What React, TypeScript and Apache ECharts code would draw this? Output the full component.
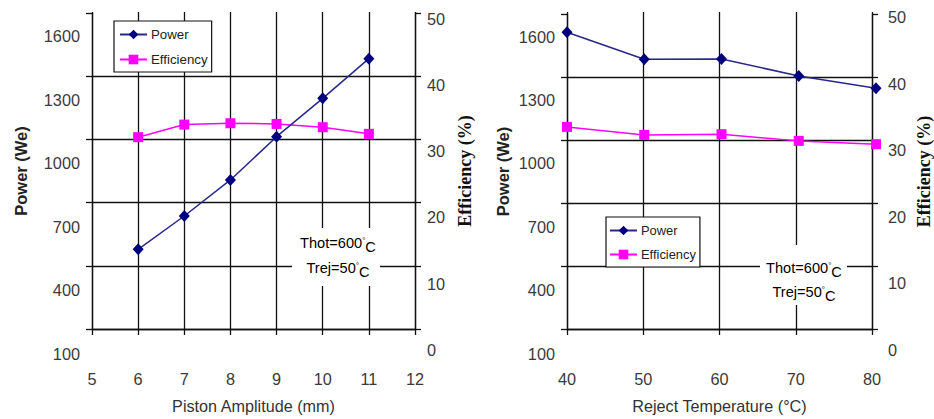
import React, { useEffect, useRef } from "react";
import * as echarts from "echarts";

// ---- data ----
const pistonAmplitude = [6, 7, 8, 9, 10, 11];
const powerVsAmplitude = [594, 751, 921, 1125, 1306, 1493];
const efficiencyVsAmplitude = [32.1, 34.0, 34.2, 34.1, 33.6, 32.6];

const rejectTemperature = [40, 50, 60, 70, 80];
const powerVsReject = [1620, 1492, 1494, 1413, 1355];
const efficiencyVsReject = [33.5, 32.3, 32.4, 31.4, 30.9];

// ---- tick labels ----
const powerTicks = [100, 400, 700, 1000, 1300, 1600];
const efficiencyTicks = [0, 10, 20, 30, 40, 50];
const amplitudeTicks = [5, 6, 7, 8, 9, 10, 11, 12];
const rejectTicks = [40, 50, 60, 70, 80];

const seriesNames = ["Power", "Efficiency"];
const annotationLines = ["Thot=600", "Trej=50"];

const SANS = "'Liberation Sans', Arial, sans-serif";
const SERIF = "'Liberation Serif', 'Times New Roman', serif";
const BLACK = "#111";
const LABEL = "#3a3a3a";
const NAVY = "#000080";
const MAGENTA = "#ff00ff";
const TICK_FONT = 16.3;
const plain = (v: number) => String(v);

type PanelCfg = {
  left: number;
  width: number;
  frameTop: number;
  frameHeight: number;
  powerTop: number;
  powerHeight: number;
  effTop: number;
  effHeight: number;
  xTicks: number[];
  xName: string;
  xNameGap: number;
  xLabelMargin: number;
  leftNameGap: number;
  rightNameGap: number;
  xs: number[];
  power: number[];
  eff: number[];
  legend: { left: number; top: number; padding: number[]; itemGap: number; fontSize: number };
  note: { x: number; y: number; w: number; h: number; cx: number; y1: number; y2: number };
};

const panels: PanelCfg[] = [
  {
    left: 92,
    width: 323,
    frameTop: 13,
    frameHeight: 317,
    powerTop: 36,
    powerHeight: 318,
    effTop: 18.5,
    effHeight: 331.5,
    xTicks: amplitudeTicks,
    xName: "Piston Amplitude (mm)",
    xNameGap: 69,
    xLabelMargin: 42,
    leftNameGap: 63,
    rightNameGap: 41,
    xs: pistonAmplitude,
    power: powerVsAmplitude,
    eff: efficiencyVsAmplitude,
    legend: { left: 114, top: 21, padding: [7, 4, 6, 5], itemGap: 12, fontSize: 13.3 },
    note: { x: 292, y: 228, w: 88, h: 58, cx: 338, y1: 243, y2: 268 },
  },
  {
    left: 567,
    width: 309,
    frameTop: 14,
    frameHeight: 317,
    powerTop: 36.5,
    powerHeight: 317,
    effTop: 17,
    effHeight: 333,
    xTicks: rejectTicks,
    xName: "Reject Temperature (°C)",
    xNameGap: 69,
    xLabelMargin: 42,
    leftNameGap: 56,
    rightNameGap: 43,
    xs: rejectTemperature,
    power: powerVsReject,
    eff: efficiencyVsReject,
    legend: { left: 606, top: 217, padding: [7, 4, 6, 3], itemGap: 11, fontSize: 12.9 },
    note: { x: 760, y: 245, w: 87, h: 60, cx: 804, y1: 268, y2: 292 },
  },
];

function buildOption() {
  const grid: any[] = [];
  const xAxis: any[] = [];
  const yAxis: any[] = [];
  const series: any[] = [];
  const legend: any[] = [];
  const graphic: any[] = [];

  panels.forEach((p, i) => {
    const g0 = i * 3;
    const x0 = i * 4;
    const y0 = i * 4;
    const xMin = p.xTicks[0];
    const xMax = p.xTicks[p.xTicks.length - 1];
    const xInt = p.xTicks[1] - p.xTicks[0];

    grid.push(
      { left: p.left, width: p.width, top: p.frameTop, height: p.frameHeight },
      { left: p.left, width: p.width, top: p.powerTop, height: p.powerHeight },
      { left: p.left, width: p.width, top: p.effTop, height: p.effHeight }
    );

    // frame x axis (visible)
    xAxis.push({
      type: "value",
      gridIndex: g0,
      min: xMin,
      max: xMax,
      interval: xInt,
      name: p.xName,
      nameLocation: "middle",
      nameGap: p.xNameGap,
      nameTextStyle: { fontFamily: SANS, fontSize: 16.2, color: "#333" },
      axisLine: { show: true, onZero: false, lineStyle: { color: BLACK, width: 1.3 } },
      axisTick: { show: true, inside: false, length: 6, lineStyle: { color: BLACK, width: 1.3 } },
      axisLabel: { show: true, margin: p.xLabelMargin, fontFamily: SANS, fontSize: TICK_FONT, color: LABEL, formatter: plain },
      splitLine: { show: false },
    });
    // vertical grid lines drawn as long inside ticks
    xAxis.push({
      type: "value",
      gridIndex: g0,
      position: "bottom",
      min: xMin,
      max: xMax,
      interval: xInt,
      axisLine: { show: false, onZero: false },
      axisTick: { show: true, inside: true, length: p.frameHeight, lineStyle: { color: BLACK, width: 1.3 } },
      axisLabel: { show: false },
      splitLine: { show: false },
    });
    // hidden x axes for the data grids
    for (let k = 1; k <= 2; k++) {
      xAxis.push({ type: "value", gridIndex: g0 + k, min: xMin, max: xMax, show: false });
    }

    // frame y axes
    yAxis.push({
      type: "value",
      gridIndex: g0,
      position: "left",
      min: 0,
      max: 5,
      interval: 1,
      name: "Power (We)",
      nameLocation: "middle",
      nameRotate: 90,
      nameGap: p.leftNameGap,
      nameTextStyle: { fontFamily: SANS, fontWeight: "bold", fontSize: 16.5, color: "#222" },
      axisLine: { show: true, lineStyle: { color: BLACK, width: 1.3 } },
      axisTick: { show: true, inside: false, length: 6, lineStyle: { color: BLACK, width: 1.3 } },
      axisLabel: { show: false },
      splitLine: { show: true, showMaxLine: false, lineStyle: { color: BLACK, width: 1.3 } },
    });
    yAxis.push({
      type: "value",
      gridIndex: g0,
      position: "right",
      min: 0,
      max: 5,
      interval: 1,
      name: "Efficiency (%)",
      nameLocation: "middle",
      nameRotate: 90,
      nameGap: p.rightNameGap,
      nameTextStyle: { fontFamily: SERIF, fontWeight: "bold", fontSize: 18, color: "#111" },
      axisLine: { show: true, lineStyle: { color: BLACK, width: 1.3 } },
      axisTick: { show: true, inside: false, length: 6, lineStyle: { color: BLACK, width: 1.3 } },
      axisLabel: { show: false },
      splitLine: { show: false },
    });
    // power scale (labels)
    yAxis.push({
      type: "value",
      gridIndex: g0 + 1,
      position: "left",
      min: powerTicks[0],
      max: powerTicks[powerTicks.length - 1],
      interval: powerTicks[1] - powerTicks[0],
      axisLine: { show: false },
      axisTick: { show: false },
      splitLine: { show: false },
      axisLabel: { show: true, margin: 12, fontFamily: SANS, fontSize: TICK_FONT, color: LABEL, formatter: plain },
    });
    // efficiency scale (labels)
    yAxis.push({
      type: "value",
      gridIndex: g0 + 2,
      position: "right",
      min: efficiencyTicks[0],
      max: efficiencyTicks[efficiencyTicks.length - 1],
      interval: efficiencyTicks[1] - efficiencyTicks[0],
      axisLine: { show: false },
      axisTick: { show: false },
      splitLine: { show: false },
      axisLabel: { show: true, margin: 12, fontFamily: SANS, fontSize: TICK_FONT, color: LABEL, formatter: plain },
    });

    series.push({
      name: seriesNames[0],
      type: "line",
      xAxisIndex: x0 + 2,
      yAxisIndex: y0 + 2,
      data: p.xs.map((x, j) => [x, p.power[j]]),
      symbol: "diamond",
      symbolSize: [11, 12],
      clip: false,
      itemStyle: { color: NAVY },
      lineStyle: { color: "#27278a", width: 1.5 },
      z: 5,
    });
    series.push({
      name: seriesNames[1],
      type: "line",
      xAxisIndex: x0 + 3,
      yAxisIndex: y0 + 3,
      data: p.xs.map((x, j) => [x, p.eff[j]]),
      symbol: "rect",
      symbolSize: 10,
      clip: false,
      itemStyle: { color: MAGENTA },
      lineStyle: { color: MAGENTA, width: 1.5 },
      z: 4,
    });

    legend.push({
      data: seriesNames,
      orient: "vertical",
      left: p.legend.left,
      top: p.legend.top,
      padding: p.legend.padding,
      itemGap: p.legend.itemGap,
      itemWidth: 27,
      itemHeight: 12,
      backgroundColor: "#fff",
      borderColor: "#111",
      borderWidth: 1.2,
      borderRadius: 0,
      selectedMode: false,
      textStyle: { fontFamily: SANS, fontSize: p.legend.fontSize, color: "#222", padding: [0, 0, 0, -1] },
      z: 10,
    });

    const rich = {
      n: { fontFamily: SANS, fontSize: 14.6, color: "#333" },
      d: { fontFamily: SANS, fontSize: 8, color: "#333", padding: [0, 0, 5, 0] },
      c: { fontFamily: SANS, fontSize: 14.6, color: "#333", padding: [7, 0, 0, 0] },
    };
    graphic.push(
      {
        type: "rect",
        z: 100,
        shape: { x: p.note.x, y: p.note.y, width: p.note.w, height: p.note.h },
        style: { fill: "#fff" },
      },
      {
        type: "text",
        z: 101,
        x: p.note.cx,
        y: p.note.y1,
        style: { text: `{n|${annotationLines[0]}}{d|°}{c|C}`, rich, align: "center", verticalAlign: "middle" },
      },
      {
        type: "text",
        z: 101,
        x: p.note.cx,
        y: p.note.y2,
        style: { text: `{n|${annotationLines[1]}}{d|°}{c|C}`, rich, align: "center", verticalAlign: "middle" },
      }
    );
  });

  return {
    animation: false,
    backgroundColor: "#fff",
    grid,
    xAxis,
    yAxis,
    series,
    legend,
    graphic,
  };
}

export default function App() {
  const ref = useRef<HTMLDivElement>(null);
  useEffect(() => {
    if (!ref.current) return;
    const chart = echarts.init(ref.current, undefined, { renderer: "svg" });
    chart.setOption(buildOption() as any);
    return () => chart.dispose();
  }, []);
  return (
    <div
      ref={ref}
      style={{ position: "fixed", left: 0, top: 0, width: 934, height: 419, background: "#fff" }}
    />
  );
}
